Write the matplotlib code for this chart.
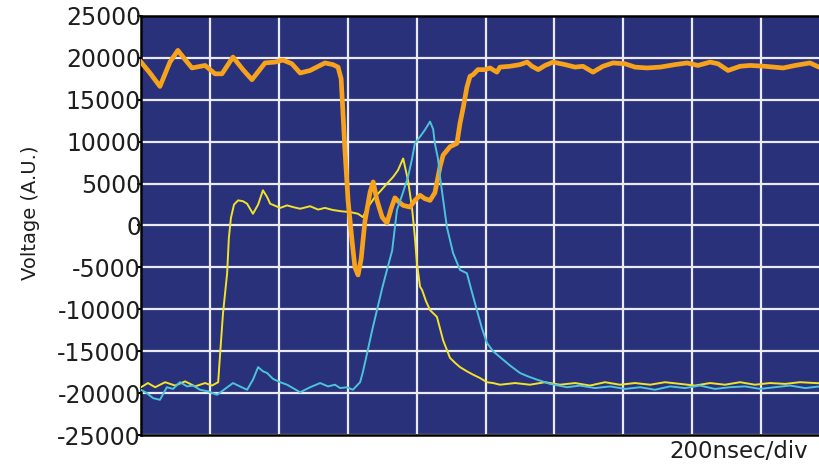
import matplotlib
matplotlib.use("Agg")
import matplotlib.pyplot as plt
import numpy as np

plt.rcParams["axes.unicode_minus"] = False

# time in ns (200 ns per division, 10 divisions)
t_orange = [0, 26, 55, 84, 107, 128, 148, 186, 215, 235, 267, 296, 322, 360, 389, 412,
            438, 462, 491, 534, 557, 572, 581, 592, 601, 613, 621, 630, 639, 650, 665,
            674, 685, 700, 714, 726, 737, 749, 761, 781, 795, 810, 824, 839, 853, 868,
            877, 897, 917, 926, 935, 946, 955, 964, 978, 999, 1013, 1033, 1042, 1071,
            1100, 1121, 1135, 1153, 1173, 1196, 1231, 1260, 1283, 1312, 1341, 1370,
            1405, 1434, 1469, 1507, 1550, 1585, 1617, 1652, 1675, 1704, 1739, 1768,
            1811, 1864, 1899, 1942, 1968, 2000]
v_orange = [19500, 18200, 16600, 19500, 20900, 19800, 18800, 19100, 18100, 18100, 20100,
            18600, 17400, 19400, 19500, 19750, 19300, 18200, 18500, 19400, 19200, 18900,
            17500, 9000, 3000, -2000, -5000, -5900, -4000, 500, 4000, 5200, 3000, 1000,
            300, 2000, 3300, 2800, 2400, 2200, 3000, 3600, 3200, 3000, 3900, 7000, 8400,
            9400, 9800, 12200, 14000, 16500, 17800, 18000, 18600, 18600, 18800, 18300,
            18900, 19000, 19200, 19500, 19000, 18600, 19100, 19500, 19200, 18900, 19000,
            18300, 19000, 19400, 19300, 18900, 18800, 18900, 19200, 19400, 19100, 19500,
            19300, 18500, 19000, 19100, 19000, 18800, 19100, 19400, 18900, 19000]

t_yellow = [0, 20, 41, 70, 99, 128, 157, 186, 206, 224, 229, 238, 250, 255, 261, 270,
            282, 296, 308, 325, 340, 354, 366, 375, 404, 424, 441, 462, 491, 514, 534,
            557, 581, 607, 630, 644, 659, 679, 697, 714, 732, 746, 761, 775, 787, 795,
            801, 810, 816, 827, 839, 859, 877, 897, 912, 926, 946, 964, 984, 1004, 1022,
            1042, 1086, 1129, 1173, 1216, 1260, 1303, 1347, 1390, 1434, 1478, 1521,
            1565, 1608, 1652, 1695, 1739, 1782, 1826, 1870, 1913, 1957, 2000]
v_yellow = [-19300, -18800, -19300, -18700, -19100, -18600, -19200, -18800, -19100,
            -18700, -15700, -10500, -5700, -1500, 900, 2500, 3000, 2900, 2600, 1400,
            2500, 4200, 3400, 2600, 2100, 2400, 2200, 2000, 2300, 1900, 2100, 1850, 1700,
            1600, 1400, 1000, 2200, 3400, 4200, 5000, 5800, 6600, 8000, 5400, 2000,
            -1400, -4500, -7300, -7700, -9000, -10100, -10900, -13700, -15800, -16400,
            -16900, -17400, -17800, -18200, -18700, -18800, -19000, -18800, -19000,
            -18700, -19000, -18800, -19100, -18700, -19000, -18800, -19000, -18700,
            -18900, -19100, -18800, -19000, -18700, -19000, -18800, -18900, -18700,
            -18800, -18900]

t_cyan = [0, 17, 35, 55, 75, 93, 113, 134, 151, 171, 195, 221, 244, 267, 287, 308, 325,
          340, 354, 366, 383, 404, 424, 441, 462, 491, 520, 543, 563, 578, 598, 615,
          636, 644, 656, 671, 685, 700, 714, 729, 743, 761, 775, 787, 795, 810, 824,
          839, 848, 853, 862, 868, 879, 888, 906, 926, 946, 961, 975, 990, 1004, 1022,
          1042, 1071, 1100, 1123, 1150, 1187, 1237, 1274, 1318, 1362, 1405, 1449,
          1492, 1536, 1579, 1623, 1666, 1710, 1753, 1797, 1840, 1884, 1928, 1971, 2000]
v_cyan = [-19600, -20000, -20600, -20800, -19300, -19500, -18700, -19200, -19100,
          -19600, -19800, -20200, -19500, -18800, -19200, -19600, -18400, -16900,
          -17400, -17600, -18300, -18700, -19000, -19400, -19900, -19300, -18800,
          -19200, -19000, -19400, -19300, -19600, -18700, -17500, -15300, -12500,
          -10100, -7500, -5300, -3000, 1850, 4000, 5800, 8000, 9800, 10600, 11400,
          12400, 11500, 9800, 8000, 5800, 2500, -200, -3300, -5300, -5700, -8000,
          -10100, -12300, -14000, -15000, -15700, -16700, -17600, -18000, -18400,
          -18900, -19300, -19100, -19400, -19200, -19500, -19300, -19600, -19200,
          -19400, -19100, -19500, -19300, -19200, -19500, -19300, -19100, -19400,
          -19200, -19300]

y_ticks = np.arange(-25000, 25001, 5000)

fig = plt.figure(figsize=(8.19, 4.65), dpi=100)
# axes runs slightly past the right edge, like the cropped scope screen
ax = fig.add_axes([141 / 819, 30 / 465, 689 / 819, 419 / 465])
ax.set_facecolor("#28317a")

ax.plot(t_yellow, v_yellow, color="#f2e22a", lw=1.4, zorder=3)
ax.plot(t_orange, v_orange, color="#f6a21c", lw=3.4, zorder=4)
ax.plot(t_cyan, v_cyan, color="#4cc3da", lw=1.4, zorder=5)

ax.set_xlim(0, 2000)
ax.set_ylim(-25000, 25000)
ax.set_xticks(np.arange(0, 2001, 200))
ax.set_yticks(y_ticks)
ax.tick_params(axis="x", length=0, labelbottom=False)
ax.tick_params(axis="y", length=3, width=1.5, pad=-3, labelsize=17,
               labelcolor="#1e1e1e")
ax.grid(True, color="#eaeaf2", lw=1.6)
ax.set_axisbelow(True)
for side in ["left", "bottom", "top"]:
    ax.spines[side].set_linewidth(1.8)
ax.spines["right"].set_visible(False)

fig.text(30 / 819, 1 - 213 / 465, "Voltage (A.U.)", rotation=90, fontsize=14,
         ha="center", va="center", color="#1e1e1e")
fig.text(669 / 819, 1 - 458 / 465, "200nsec/div", fontsize=16.5, ha="left",
         va="baseline", color="#1e1e1e")

fig.savefig("out.png", dpi=100)
